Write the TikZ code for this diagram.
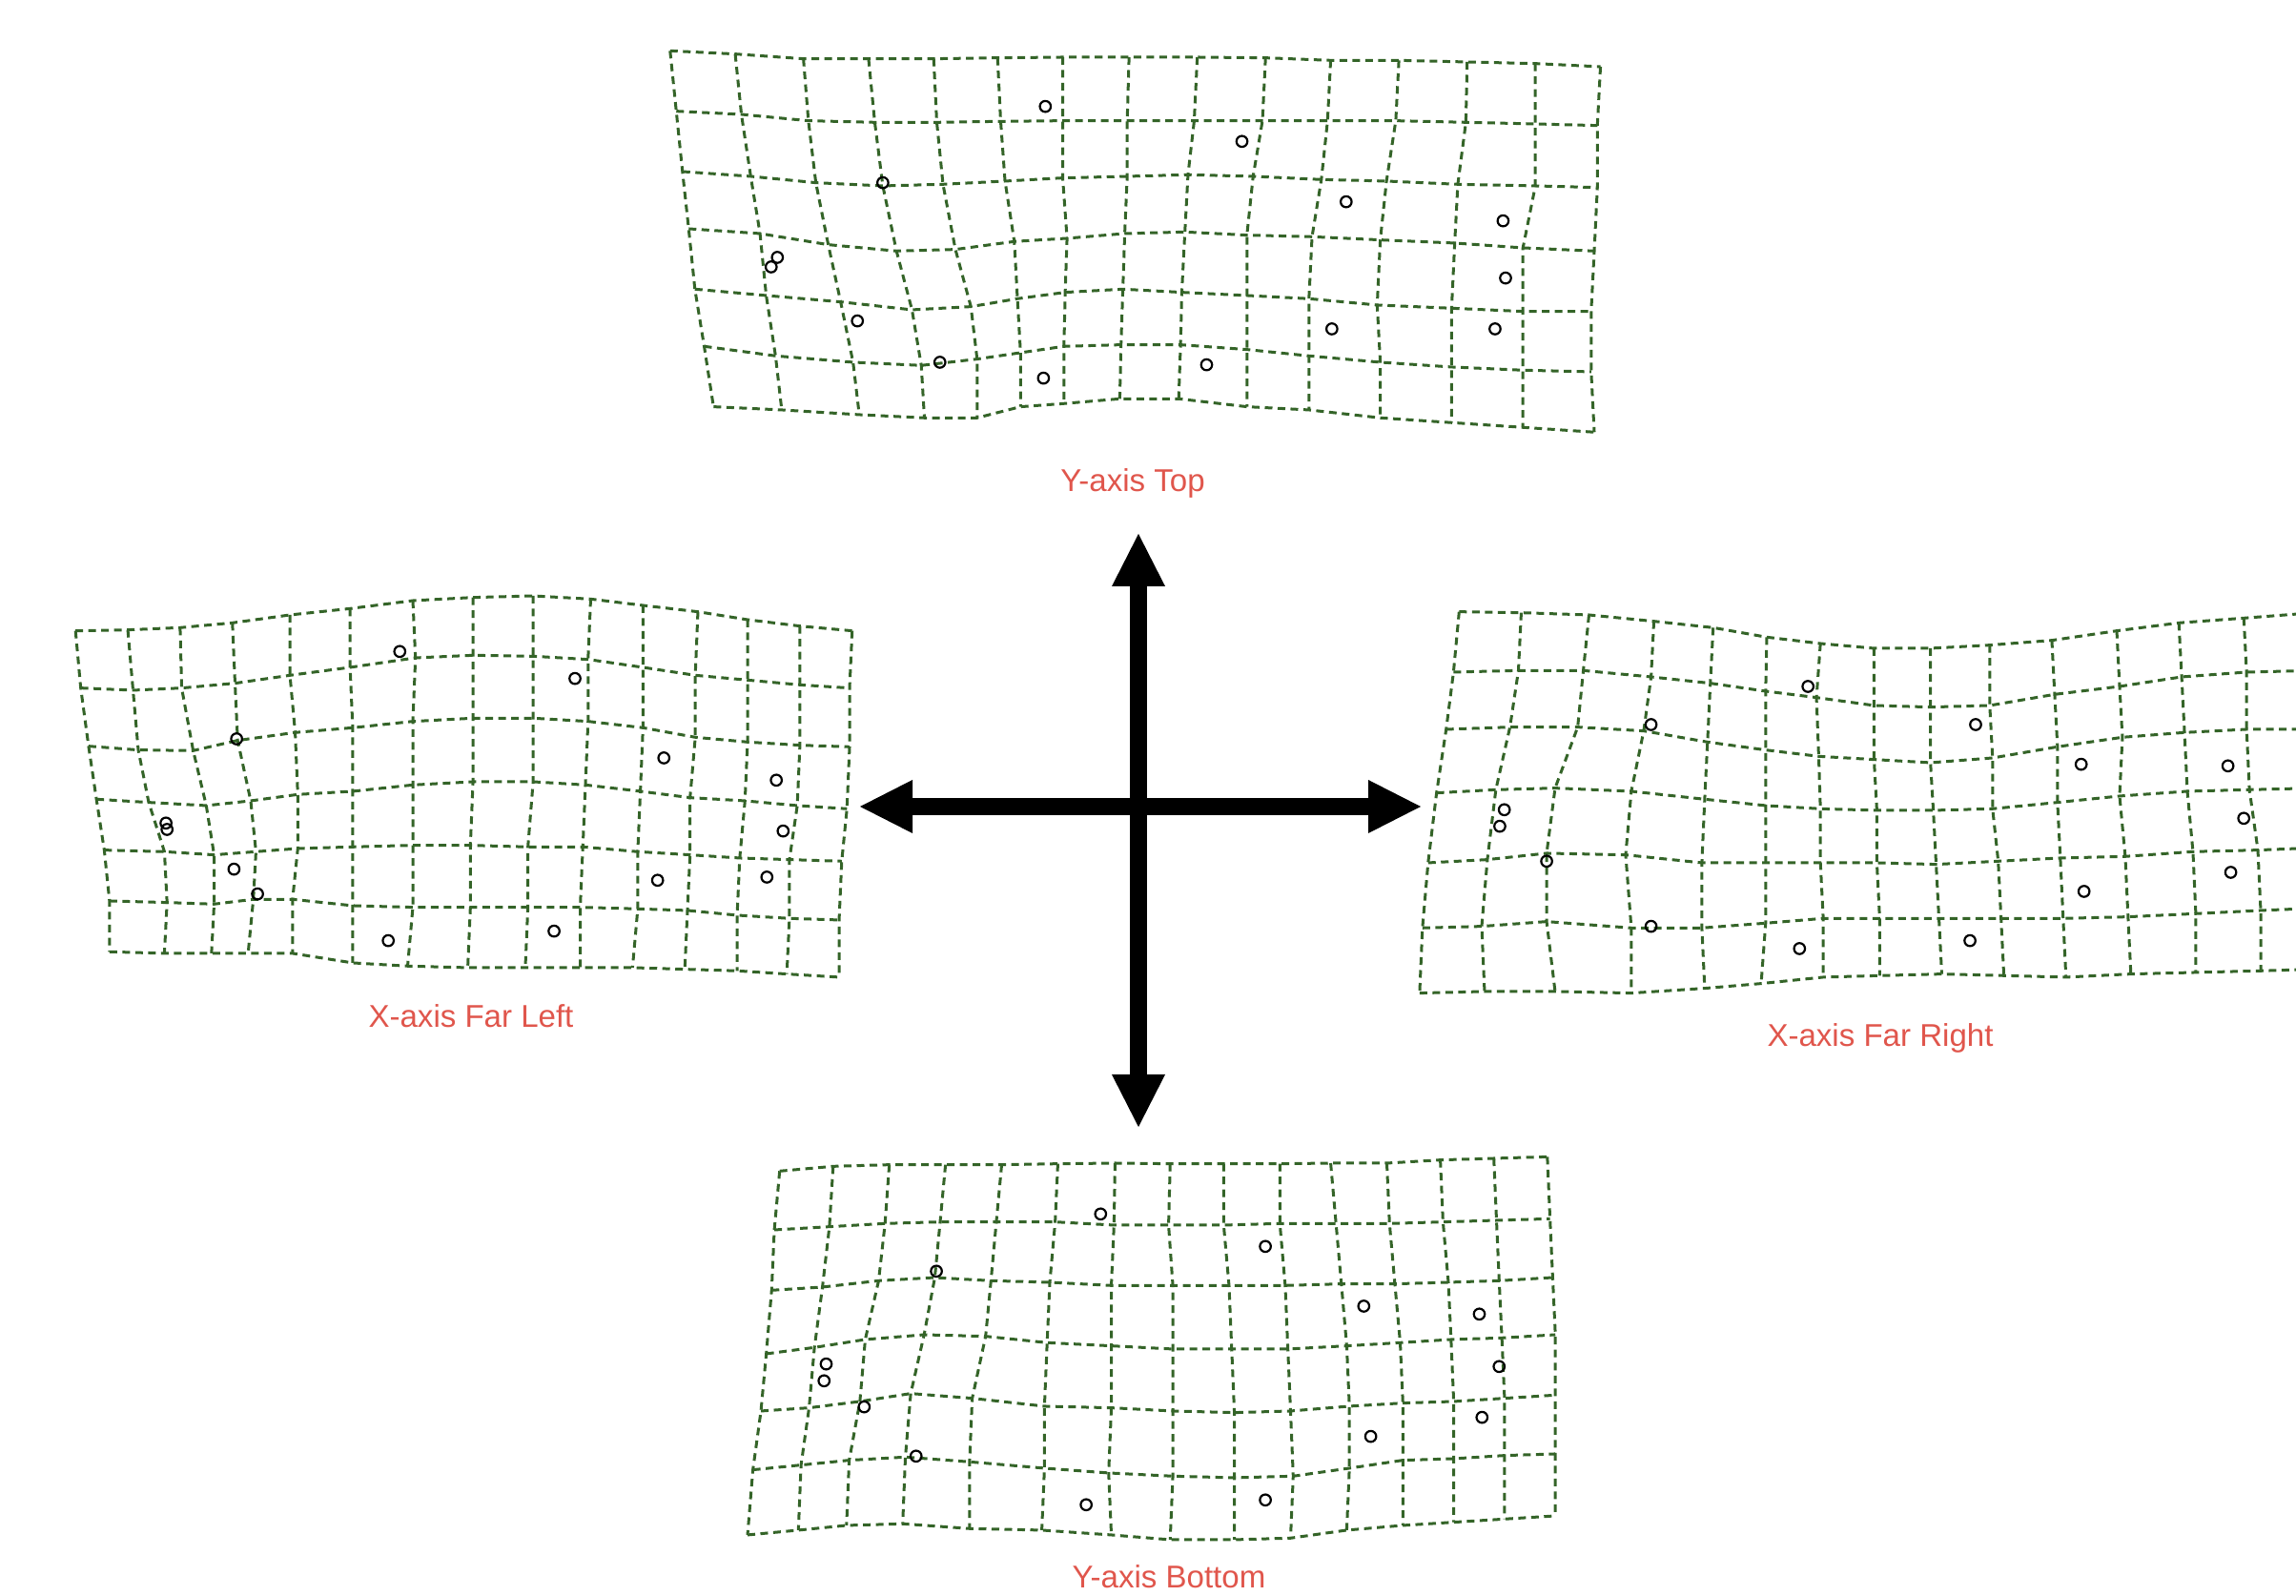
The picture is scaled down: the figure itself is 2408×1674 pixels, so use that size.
\documentclass[tikz,border=0pt]{standalone}
\usepackage{fontspec}
\setmainfont{Liberation Sans}
\usetikzlibrary{calc}
\definecolor{gridgreen}{RGB}{52,100,40}
\definecolor{labelred}{RGB}{224,86,76}
\tikzset{
  gridline/.style={draw=gridgreen, line width=0.03cm, dash pattern=on 0.08cm off 0.055cm},
  marker/.style={circle, draw=black, line width=0.022cm, minimum size=0.115cm, inner sep=0pt},
  caption/.style={text=labelred, font=\fontsize{9.4}{11}\selectfont, anchor=base, inner sep=0pt},
  arrowshaft/.style={line width=0.18cm, line cap=butt},
  arrowhead/.style={fill=black, draw=none},
}
\newcommand\gridmesh[2]{%
  \foreach \j/\row in {#2} {
    \foreach [count=\i from 0] \x/\y in \row { \coordinate (#1-\i-\j) at (\x,\y); }
  }
  \foreach \j in {0,...,6} { \draw[gridline] (#1-0-\j) \foreach \i in {1,...,14} { -- (#1-\i-\j) }; }
  \foreach \i in {0,...,14} { \draw[gridline] (#1-\i-0) \foreach \j in {1,...,6} { -- (#1-\i-\j) }; }
}
\begin{document}
\begin{tikzpicture}[x=0.01cm, y=-0.01cm]
\useasboundingbox (0,0) rectangle (2408,1674);
\clip (0,0) rectangle (2408,1674);

% ---------- Top grid ----------
\begin{scope}[shift={(680,30)}, xscale=0.6505, yscale=0.3333]
\gridmesh{T}{
0/{35/70,140/80,250/95,355/95,460/95,563/92,668/90,775/90,885/90,995/92,1100/100,1210/100,1320/105,1430/110,1535/120},
1/{45/260,150/270,258/290,365/295,465/295,568/292,668/290,772/290,880/290,990/290,1095/290,1205/290,1318/295,1430/300,1530/305},
2/{55/450,165/465,270/485,378/495,475/490,575/480,668/470,772/465,870/460,975/465,1085/475,1190/480,1305/490,1430/495,1530/500},
3/{65/630,180/645,290/680,400/700,495/695,590/670,675/660,768/645,865/640,965/650,1070/655,1180/665,1300/675,1410/690,1525/700},
4/{75/820,190/840,310/860,425/885,520/875,595/850,672/830,765/820,860/830,965/840,1065/850,1175/870,1295/880,1410/890,1520/890},
5/{90/1000,205/1030,330/1050,440/1060,530/1040,600/1020,670/1000,762/995,858/995,965/1010,1065/1030,1180/1050,1295/1065,1410/1075,1520/1080},
6/{105/1190,215/1200,340/1215,445/1225,530/1225,600/1190,670/1180,760/1165,855/1165,965/1190,1065/1200,1180/1225,1295/1240,1410/1255,1525/1270}}
\foreach [count=\k] \x/\y in {640/245,957/355,378/485,1125/545,1378/605,208/720,198/750,1382/785,337/920,1102/945,1365/945,470/1050,900/1058,637/1100}
  \node[marker] (T-m\k) at (\x,\y) {};
\end{scope}

% ---------- Left grid ----------
\begin{scope}[shift={(60,600)}, xscale=0.5485, yscale=0.3333]
\gridmesh{L}{
0/{35/185,135/182,235/175,335/160,445/135,560/115,680/90,795/80,910/75,1020/85,1120/105,1225/125,1320/150,1420/170,1520/185},
1/{45/365,145/372,238/365,340/350,445/325,560/300,685/270,795/262,910/265,1015/275,1120/300,1220/325,1320/340,1420/355,1515/365},
2/{60/548,155/560,260/562,345/530,455/505,565/490,680/470,795/460,910/460,1015/470,1120/490,1220/520,1320/535,1420/545,1515/550},
3/{75/715,175/725,285/735,370/720,460/700,565/690,680/670,795/660,910/660,1010/670,1115/690,1210/710,1315/720,1415/735,1510/745},
4/{90/875,205/880,300/890,380/880,460/870,565/865,680/860,790/860,900/865,1005/865,1110/880,1210/890,1305/900,1400/905,1500/910},
5/{100/1035,210/1040,300/1045,375/1030,450/1030,565/1050,680/1055,790/1055,900/1055,1000/1055,1110/1060,1205/1065,1300/1080,1400/1090,1495/1095},
6/{100/1195,205/1200,295/1200,365/1200,450/1200,565/1230,670/1240,785/1245,895/1245,1000/1245,1100/1245,1200/1250,1300/1255,1395/1265,1495/1275}}
\foreach [count=\k] \x/\y in {655/250,990/335,343/525,1160/585,1375/655,208/790,210/810,1388/815,338/935,1148/970,1357/960,383/1013,950/1130,633/1160}
  \node[marker] (L-m\k) at (\x,\y) {};
\end{scope}

% ---------- Right grid ----------
\begin{scope}[shift={(1480,620)}, xscale=0.592, yscale=0.3333]
\gridmesh{R}{
0/{85/65,195/68,315/75,430/95,535/115,630/145,725/165,820/180,920/180,1025/170,1135/155,1250/125,1360/100,1475/85,1600/68},
1/{75/255,190/250,305/250,425/270,530/290,628/315,718/335,820/360,920/365,1025/360,1140/325,1255/300,1365/270,1480/255,1600/250},
2/{62/435,175/428,295/428,412/440,525/475,628/500,722/520,820/530,920/540,1030/525,1145/490,1260/460,1370/445,1480/435,1600/435},
3/{45/635,150/625,255/620,390/630,520/655,628/675,725/685,825/690,925/690,1030/685,1145/665,1255/645,1375/630,1485/625,1600/620},
4/{30/855,135/845,240/825,380/830,515/855,628/855,725/855,825/855,930/860,1040/850,1150/840,1265/835,1385/820,1500/815,1600/808},
5/{20/1060,125/1055,240/1040,390/1060,515/1060,628/1045,730/1030,830/1030,935/1030,1045/1030,1155/1030,1270/1025,1390/1015,1505/1005,1600/998},
6/{15/1265,130/1260,255/1260,390/1265,520/1250,620/1235,730/1215,830/1210,940/1205,1050/1210,1160/1215,1275/1205,1390/1200,1505/1195,1600/1190}}
\foreach [count=\k] \x/\y in {703/300,425/420,1000/420,1187/545,1447/550,165/688,157/740,1475/715,240/850,1452/885,1192/945,425/1055,688/1125,990/1100}
  \node[marker] (R-m\k) at (\x,\y) {};
\end{scope}

% ---------- Bottom grid ----------
\begin{scope}[shift={(770,1190)}, xscale=0.561, yscale=0.3333]
\gridmesh{B}{
0/{85/115,185/100,290/95,395/95,500/95,605/92,712/90,815/92,915/92,1020/92,1115/90,1220/90,1320/80,1420/75,1520/70},
1/{75/300,178/290,282/280,385/275,490/275,600/275,710/285,812/285,915/285,1020/280,1125/280,1225/280,1325/275,1425/270,1525/265},
2/{70/490,165/480,270/460,375/450,480/460,590/465,705/475,820/475,925/475,1030/475,1135/470,1235/470,1335/465,1430/460,1530/450},
3/{60/690,150/670,245/645,355/630,470/635,585/655,705/665,820/675,930/675,1035/675,1145/665,1245/655,1340/645,1435/640,1535/630},
4/{50/870,140/860,235/840,330/815,445/830,580/855,705/860,820/870,935/875,1040/870,1150/855,1250/845,1345/840,1440/830,1535/820},
5/{35/1055,125/1040,215/1025,320/1015,440/1030,580/1050,700/1065,820/1075,935/1080,1045/1075,1150/1050,1250/1025,1345/1020,1440/1010,1535/1005},
6/{25/1260,120/1245,210/1230,315/1225,440/1240,575/1245,705/1260,815/1275,935/1275,1040/1270,1145/1245,1250/1230,1345/1220,1440/1210,1535/1200}}
\foreach [count=\k] \x/\y in {685/250,993/352,378/430,1177/540,1393/565,172/722,168/775,1430/730,243/857,1398/890,1190/950,340/1012,658/1165,993/1150}
  \node[marker] (B-m\k) at (\x,\y) {};
\end{scope}

% ---------- Labels ----------
\node[caption] (lblT) at (1188,516) {Y-axis Top};
\node[caption] (lblL) at (494,1078) {X-axis Far Left};
\node[caption] (lblR) at (1972,1098) {X-axis Far Right};
\node[caption] (lblB) at (1226,1666) {Y-axis Bottom};

% ---------- Central arrows ----------
\coordinate (C) at (1194,846);
\coordinate (tipU) at (1194,560);
\coordinate (tipD) at (1194,1182);
\coordinate (tipL) at (902,846);
\coordinate (tipR) at (1490,846);
\draw[arrowshaft] ($(tipU)+(0,54)$) -- ($(tipD)+(0,-54)$);
\draw[arrowshaft] ($(tipL)+(54,0)$) -- ($(tipR)+(-54,0)$);
\fill[arrowhead] (tipU) -- ($(tipU)+(-28,55)$) -- ($(tipU)+(28,55)$) -- cycle;
\fill[arrowhead] (tipD) -- ($(tipD)+(-28,-55)$) -- ($(tipD)+(28,-55)$) -- cycle;
\fill[arrowhead] (tipL) -- ($(tipL)+(55,-28)$) -- ($(tipL)+(55,28)$) -- cycle;
\fill[arrowhead] (tipR) -- ($(tipR)+(-55,-28)$) -- ($(tipR)+(-55,28)$) -- cycle;
\end{tikzpicture}
\end{document}
